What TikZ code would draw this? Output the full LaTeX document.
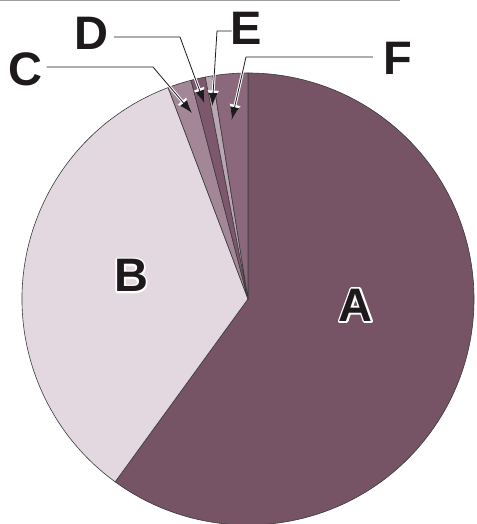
\documentclass[tikz,border=0pt]{standalone}
\usepackage{fontspec}
\setmainfont{Liberation Sans}
\usetikzlibrary{arrows.meta}

\definecolor{sliceA}{HTML}{775366}
\definecolor{sliceB}{HTML}{E3D8DF}
\definecolor{sliceC}{HTML}{A48797}
\definecolor{sliceD}{HTML}{7D586C}
\definecolor{sliceE}{HTML}{BAA5B3}
\definecolor{sliceF}{HTML}{8C687C}
\definecolor{edge}{HTML}{3A3A3A}
\definecolor{rulegray}{HTML}{9E9E9E}
\definecolor{ink}{HTML}{1E1A1C}

% white halo round a label (stroked copy behind)
\newcommand\haloed[1]{%
  \leavevmode\rlap{\color{white}\special{pdf:literal direct 1 Tr 3.6 w 1 j}#1%
    \special{pdf:literal direct 0 Tr 0.4 w 0 j}}#1}

\begin{document}
\begin{tikzpicture}[x=1pt,y=1pt,
    slice/.style={draw=edge, line width=0.6pt, line join=round},
    pielabel/.style={inner sep=0pt, text=ink, font=\fontsize{47}{47}\selectfont\bfseries},
    leader/.style={draw=ink, line width=0.8pt, -{Latex[length=13pt,width=9pt]},
      preaction={draw=white, line width=2.8pt, -{Latex[length=15.5pt,width=11.5pt]}}}]
    \useasboundingbox (0,0) rectangle (476,524);
    % Rule
    \draw[rulegray, line width=1pt] (0,523.5) -- (400,523.5);
    % Pie
    \coordinate (O) at (248,225);
    \filldraw[slice, fill=sliceA] (O) -- ++(234:226pt) arc[start angle=234, end angle=450, radius=226pt] -- cycle;
    \filldraw[slice, fill=sliceB] (O) -- ++(110.7:226pt) arc[start angle=110.7, end angle=234, radius=226pt] -- cycle;
    \filldraw[slice, fill=sliceC] (O) -- ++(104.6:226pt) arc[start angle=104.6, end angle=110.7, radius=226pt] -- cycle;
    \filldraw[slice, fill=sliceD] (O) -- ++(100.9:226pt) arc[start angle=100.9, end angle=104.6, radius=226pt] -- cycle;
    \filldraw[slice, fill=sliceE] (O) -- ++(99.05:226pt) arc[start angle=99.05, end angle=100.9, radius=226pt] -- cycle;
    \filldraw[slice, fill=sliceF] (O) -- ++(90:226pt) arc[start angle=90, end angle=99.05, radius=226pt] -- cycle;
    % Labels in the slices
    \node[pielabel] (labA) at (355.5,219) {\haloed{A}};
    \node[pielabel] (labB) at (131,248.5) {\haloed{B}};
    % Labels outside
    \node[pielabel] (labC) at (25.5,455) {C};
    \node[pielabel] (labD) at (91,490.5) {D};
    \node[pielabel] (labE) at (246.5,495.5) {E};
    \node[pielabel] (labF) at (397.5,465.5) {F};
    % Leaders
    \coordinate (bendC) at (153,457);
    \coordinate (tipC) at (192,411);
    \coordinate (bendD) at (180,487);
    \coordinate (tipD) at (204.3,420.7);
    \coordinate (bendE) at (217,493);
    \coordinate (tipE) at (212.3,418);
    \coordinate (bendF) at (246,467);
    \coordinate (tipF) at (231.7,404);
    \draw[leader] ([xshift=4pt,yshift=2pt]labC.east) -- (bendC) -- (tipC);
    \draw[leader] ([xshift=6pt,yshift=-3.5pt]labD.east) -- (bendD) -- (tipD);
    \draw[leader] ([xshift=1pt,yshift=-2.5pt]labE.west) -- (bendE) -- (tipE);
    \draw[leader] ([xshift=-10pt,yshift=1.5pt]labF.west) -- (bendF) -- (tipF);
\end{tikzpicture}
\end{document}
